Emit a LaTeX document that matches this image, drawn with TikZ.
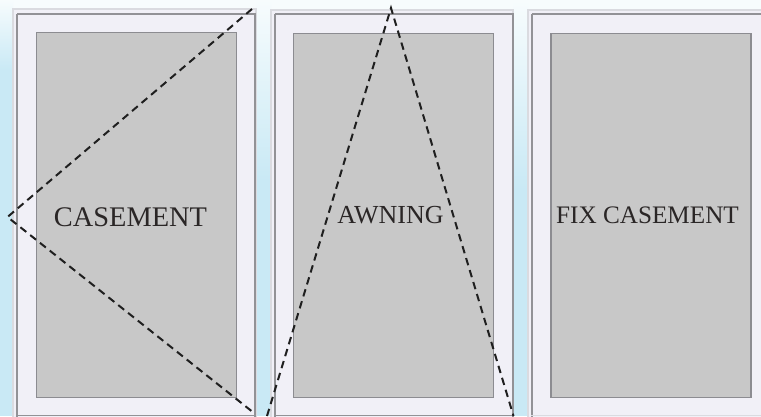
\documentclass[tikz,border=0pt]{standalone}
\usepackage{fontspec}
\setmainfont{Liberation Serif}
\definecolor{skyA}{HTML}{C9E9F5}
\definecolor{skyB}{HTML}{F7FCFD}
\definecolor{frameFill}{HTML}{F1F0F7}
\definecolor{frameEdge}{HTML}{DADBE0}
\definecolor{frameLine}{HTML}{929296}
\definecolor{glassFill}{HTML}{C8C8C8}
\definecolor{glassLine}{HTML}{8C8C91}
\definecolor{labelInk}{HTML}{2A2626}
\tikzset{
  frameouter/.style={draw=frameEdge,fill=frameFill,line width=1.1pt},
  frameinner/.style={draw=frameLine,line width=1.2pt},
  glass/.style={draw=glassLine,fill=glassFill,line width=1.4pt},
  swing/.style={draw=black!88,line width=2pt,dash pattern=on 7.5pt off 5pt},
  winlabel/.style={text=labelInk,inner sep=0pt,anchor=center}
}
\begin{document}
\begin{tikzpicture}[x=1pt,y=-1pt]
\useasboundingbox (0,0) rectangle (761,416);
\clip (0,0) rectangle (761,416);
\fill[skyB] (0,0) rectangle (761,416);
\shade[top color=skyB,bottom color=skyA] (0,0) rectangle (13,70);
\fill[skyA] (0,70) rectangle (13,416);
\shade[top color=skyB,bottom color=skyA] (256,0) rectangle (271,180);
\fill[skyA] (256,180) rectangle (271,416);
\shade[top color=skyB,bottom color=skyA] (513,0) rectangle (528,190);
\fill[skyA] (513,190) rectangle (528,416);
% frames
\path[frameouter] (13,9) rectangle (256,420);
\path[frameinner] (17,14) -- (255,14) -- (255,420) (17,14) -- (17,420);
\path[frameouter] (271,10) rectangle (513,420);
\path[frameinner] (275,14) -- (513,14) -- (513,420) (275,14) -- (275,420);
\path[frameouter] (528,10) rectangle (770,420);
\path[frameinner] (532,14) -- (770,14) (532,14) -- (532,420);
\draw[frameLine,line width=1.2pt] (16,415.4) -- (256,415.4) (274,415.4) -- (513,415.4);
\draw[frameEdge,line width=1.2pt] (531,415.4) -- (761,415.4);
% glass
\node[glass,minimum width=200pt,minimum height=365pt,inner sep=0pt,anchor=north west] (g1) at (35.8,31.8) {};
\node[glass,minimum width=200pt,minimum height=364pt,inner sep=0pt,anchor=north west] (g2) at (292.6,32.6) {};
\node[glass,minimum width=200pt,minimum height=364pt,inner sep=0pt,anchor=north west] (g3) at (550.4,32.6) {};
% labels
\node[winlabel,font=\fontsize{28.4}{32}\selectfont] (l1) at (130.5,217) {CASEMENT};
\node[winlabel,font=\fontsize{26}{30}\selectfont] (l2) at (390.5,215) {AWNING};
\node[winlabel,font=\fontsize{25.2}{30}\selectfont] (l3) at (647.5,215) {FIX CASEMENT};
% swing lines
\coordinate (a1) at (252,9);
\coordinate (a2) at (7.5,217);
\coordinate (a3) at (254,413);
\coordinate (b1) at (267,416);
\coordinate (b2) at (391,8);
\coordinate (b3) at (513.5,416);
\draw[swing] (a1) -- (a2) -- (a3);
\draw[swing] (b1) -- (b2) -- (b3);
\end{tikzpicture}
\end{document}
